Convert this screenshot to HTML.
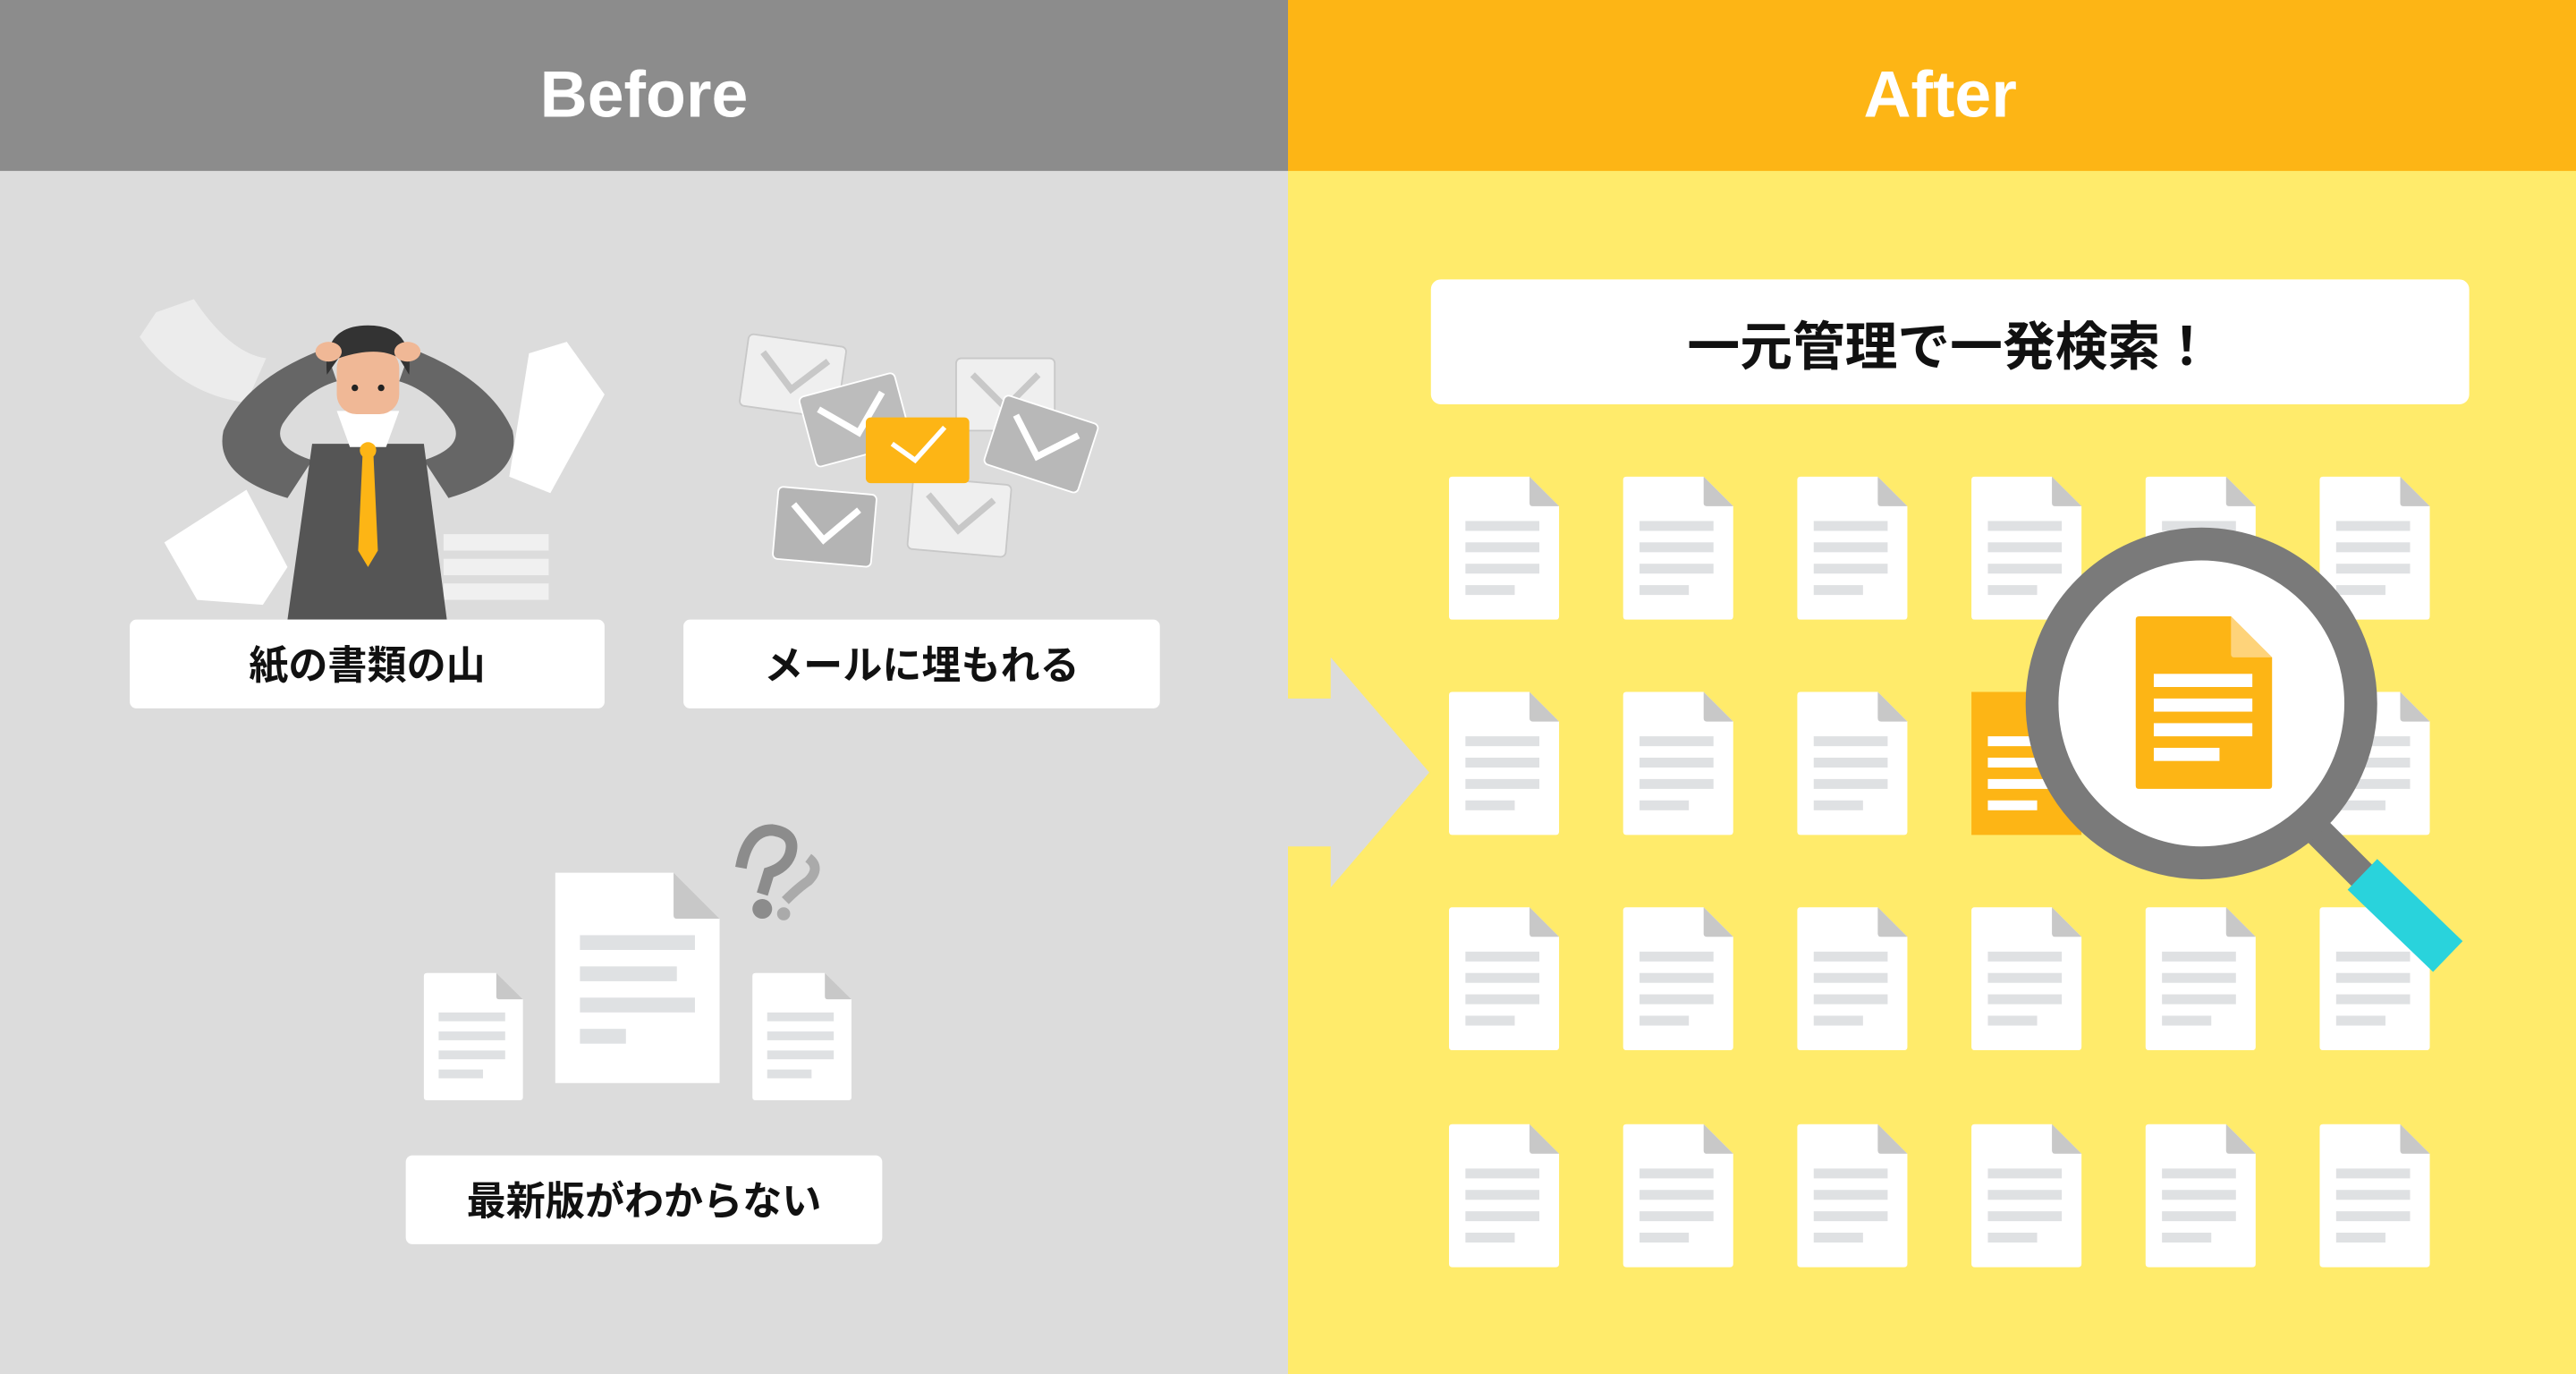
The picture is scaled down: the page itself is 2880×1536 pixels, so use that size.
<!DOCTYPE html>
<html><head><meta charset="utf-8"><style>
html,body{margin:0;padding:0;width:2880px;height:1536px;overflow:hidden;background:#dcdcdc}
svg{display:block}
text{font-family:"Liberation Sans","Noto Sans CJK JP",sans-serif;font-weight:bold}
</style></head><body>
<svg width="2880" height="1536" viewBox="0 0 1568 836" preserveAspectRatio="none" xmlns="http://www.w3.org/2000/svg">
<defs>
<g id="doc">
<path d="M0 2 Q0 0 2 0 H49 L67 18 V85 Q67 87 65 87 H2 Q0 87 0 85 Z" fill="#fff"/>
<path d="M49 0 L67 18 H51 Q49 18 49 16 Z" fill="#c8c8c8"/>
<rect x="10" y="27" width="45" height="6" fill="#dfe1e3"/>
<rect x="10" y="40" width="45" height="6" fill="#dfe1e3"/>
<rect x="10" y="53" width="45" height="6" fill="#dfe1e3"/>
<rect x="10" y="66" width="30" height="6" fill="#dfe1e3"/>
</g>
<g id="env">
<rect x="0" y="0" width="60" height="44" rx="3"/>
<path d="M10 10 L30 30 L50 10" fill="none" stroke-width="4"/>
</g>
</defs>
<rect x="0" y="0" width="784" height="836" fill="#dcdcdc"/>
<rect x="784" y="0" width="784" height="836" fill="#ffeb6b"/>
<rect x="0" y="0" width="784" height="104" fill="#8c8c8c"/>
<rect x="784" y="0" width="784" height="104" fill="#fdb515"/>
<text x="392" y="71" font-size="40" fill="#fff" text-anchor="middle">Before</text>
<text x="1181" y="71" font-size="40" fill="#fff" text-anchor="middle">After</text>

<path d="M784 425 H810 V400 L870 470 L810 540 V515 H784 Z" fill="#dcdcdc"/>

<!-- man & papers -->
<path d="M95 190 L118 182 Q140 215 162 218 L150 245 Q110 240 85 205 Z" fill="#ececec"/>
<path d="M322 215 L345 208 L368 240 L335 300 L310 290 Z" fill="#fff"/>
<path d="M100 330 L150 298 L175 345 L160 368 L120 365 Z" fill="#fff"/>
<rect x="270" y="325" width="64" height="10" fill="#f0f0f0"/>
<rect x="270" y="340" width="64" height="10" fill="#f0f0f0"/>
<rect x="270" y="355" width="64" height="10" fill="#f0f0f0"/>
<path d="M198 212 Q150 230 136 262 Q130 290 175 303 L190 280 Q165 272 172 258 Q185 238 205 232 Z" fill="#666"/>
<path d="M250 212 Q298 230 312 262 Q318 290 273 303 L258 280 Q283 272 276 258 Q263 238 243 232 Z" fill="#666"/>
<path d="M190 270 L258 270 L272 377 L175 377 Z" fill="#555"/>
<path d="M205 250 L243 250 L235 272 L213 272 Z" fill="#fff"/>
<path d="M221 270 L227 270 L230 335 L224 345 L218 335 Z" fill="#fdb515"/>
<circle cx="224" cy="274" r="5" fill="#fdb515"/>
<rect x="205" y="212" width="38" height="40" rx="12" fill="#f0b896"/>
<path d="M199 228 Q196 198 224 198 Q252 198 249 228 L243 218 Q230 210 206 218 Z" fill="#333"/>
<ellipse cx="200" cy="214" rx="8" ry="6" fill="#f0b896"/><ellipse cx="248" cy="214" rx="8" ry="6" fill="#f0b896"/>
<circle cx="216" cy="236" r="2" fill="#222"/><circle cx="232" cy="236" r="2" fill="#222"/>

<g transform="translate(456,203) rotate(8)"><use href="#env" fill="#efefef" stroke="#c8c8c8"/></g>
<g transform="translate(582,218) rotate(0)"><use href="#env" fill="#efefef" stroke="#c8c8c8"/></g>
<g transform="translate(556,290) rotate(5)"><use href="#env" fill="#efefef" stroke="#c8c8c8"/></g>
<g transform="translate(486,242) rotate(-15)"><use href="#env" fill="#bcbcbc" stroke="#fff"/></g>
<g transform="translate(612,240) rotate(18)"><use href="#env" fill="#b8b8b8" stroke="#fff"/></g>
<g transform="translate(474,296) rotate(5)"><use href="#env" fill="#b4b4b4" stroke="#fff"/></g>
<g transform="translate(527,254)"><rect width="63" height="40" rx="3" fill="#fdb515"/><path d="M16 16 L30 26 L48 6" fill="none" stroke="#fff" stroke-width="3"/></g>

<g transform="translate(258,592) scale(0.9,0.89)"><use href="#doc"/></g>
<g transform="translate(458,592) scale(0.9,0.89)"><use href="#doc"/></g>
<path d="M338 531 H410 L438 559 V659 H338 Z" fill="#fff"/>
<path d="M410 531 L438 559 H412 Q410 559 410 557 Z" fill="#c8c8c8"/>
<rect x="353" y="569" width="70" height="9" fill="#dfe1e3"/>
<rect x="353" y="588" width="59" height="9" fill="#dfe1e3"/>
<rect x="353" y="607" width="70" height="9" fill="#dfe1e3"/>
<rect x="353" y="626" width="28" height="9" fill="#dfe1e3"/>
<path d="M451 528 Q455 505 470 505 Q485 507 481 520 Q478 528 468 531 L464 544" fill="none" stroke="#8c8c8c" stroke-width="7"/>
<circle cx="464" cy="553" r="6" fill="#8c8c8c"/>
<path d="M478 548 Q486 540 492 536 Q500 528 492 522" fill="none" stroke="#aaa" stroke-width="6"/>
<circle cx="477" cy="556" r="4" fill="#aaa"/>

<rect x="79" y="377" width="289" height="54" rx="4" fill="#fff"/>
<text x="223.5" y="413" font-size="24" text-anchor="middle" fill="#111">紙の書類の山</text>
<rect x="416" y="377" width="290" height="54" rx="4" fill="#fff"/>
<text x="561" y="413" font-size="24" text-anchor="middle" fill="#111">メールに埋もれる</text>
<rect x="247" y="703" width="290" height="54" rx="4" fill="#fff"/>
<text x="392" y="739" font-size="24" text-anchor="middle" fill="#111">最新版がわからない</text>

<rect x="871" y="170" width="632" height="76" rx="6" fill="#fff"/>
<text x="1187" y="222" font-size="32" text-anchor="middle" fill="#111">一元管理で一発検索！</text>

<g fill="#fff">
<use href="#doc" x="882" y="290"/><use href="#doc" x="988" y="290"/><use href="#doc" x="1094" y="290"/><use href="#doc" x="1200" y="290"/><use href="#doc" x="1306" y="290"/><use href="#doc" x="1412" y="290"/>
<use href="#doc" x="882" y="421"/><use href="#doc" x="988" y="421"/><use href="#doc" x="1094" y="421"/><use href="#doc" x="1412" y="421"/>
<use href="#doc" x="882" y="552"/><use href="#doc" x="988" y="552"/><use href="#doc" x="1094" y="552"/><use href="#doc" x="1200" y="552"/><use href="#doc" x="1306" y="552"/><use href="#doc" x="1412" y="552"/>
<use href="#doc" x="882" y="684"/><use href="#doc" x="988" y="684"/><use href="#doc" x="1094" y="684"/><use href="#doc" x="1200" y="684"/><use href="#doc" x="1306" y="684"/><use href="#doc" x="1412" y="684"/>
</g>
<g transform="translate(1200,421)">
<path d="M0 0 H49 L67 18 V87 H0 Z" fill="#fdb515"/>
<rect x="10" y="27" width="45" height="6" fill="#fff"/><rect x="10" y="40" width="45" height="6" fill="#fff"/><rect x="10" y="53" width="45" height="6" fill="#fff"/><rect x="10" y="66" width="30" height="6" fill="#fff"/>
</g>

<line x1="1405" y1="500" x2="1440" y2="535" stroke="#7a7a7a" stroke-width="18"/>
<line x1="1438" y1="532" x2="1490" y2="582" stroke="#29d3dc" stroke-width="26"/>
<circle cx="1340" cy="428" r="97" fill="#fff" stroke="#7a7a7a" stroke-width="20"/>
<g transform="translate(1300,375)">
<path d="M0 2 Q0 0 2 0 H58 L83 25 V103 Q83 105 81 105 H2 Q0 105 0 103 Z" fill="#fdb515"/>
<path d="M58 0 L83 25 H60 Q58 25 58 23 Z" fill="#fed37a"/>
<rect x="11" y="35" width="60" height="8" fill="#fff"/><rect x="11" y="50" width="60" height="8" fill="#fff"/><rect x="11" y="65" width="60" height="8" fill="#fff"/><rect x="11" y="80" width="40" height="8" fill="#fff"/>
</g>
</svg>
</body></html>
